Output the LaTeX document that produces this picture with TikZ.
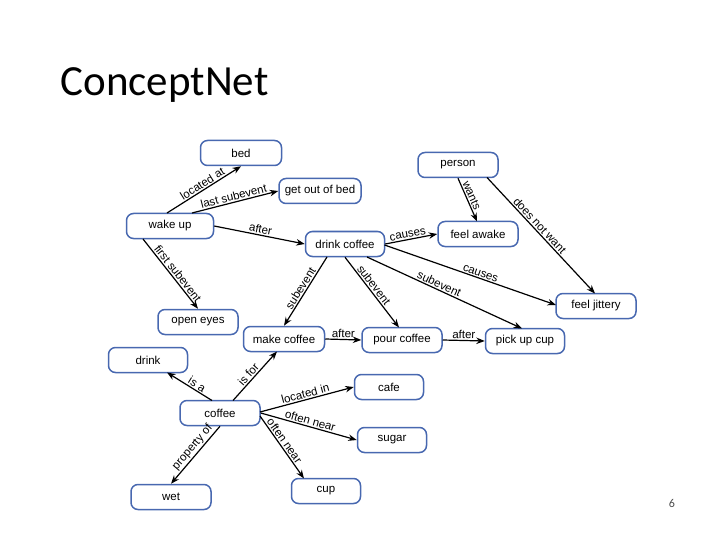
\documentclass[tikz,border=0pt]{standalone}
\usepackage{fontspec}
\setmainfont{Liberation Sans}
\newfontfamily\titlefont{Carlito}
\usetikzlibrary{arrows.meta,calc}
\definecolor{nodeblue}{RGB}{72,104,176}
\begin{document}
\begin{tikzpicture}[x=1pt,y=-1pt,
  cn/.style={draw=nodeblue,line width=1.5pt,rounded corners=7pt,fill=white,
    minimum width=80pt,minimum height=25pt,inner sep=1pt,
    font=\fontsize{11.5}{13}\selectfont},
  rel/.style={line width=1.2pt,black,-{Stealth[length=8.5pt,width=6.5pt]}},
  lab/.style={sloped,above,inner sep=1.2pt,font=\fontsize{11.5}{13}\selectfont}]
\useasboundingbox (0,0) rectangle (720,540);
\node[anchor=base west,font=\titlefont\fontsize{43}{50}\selectfont] (title) at (57,96) {ConceptNet};
\node[font=\titlefont\fontsize{12}{14}\selectfont,text=black!70] (pg) at (672,503) {6};
% nodes
\node[cn,minimum width=81pt] (bed) at (241,153) {bed};
\node[cn,minimum width=82pt] (gob) at (320,191) {get out of bed};
\node[cn,minimum width=87pt] (wake) at (170,226) {wake up};
\node[cn,minimum width=79pt] (dc) at (345,244) {drink coffee};
\node[cn] (person) at (458,165) {person};
\node[cn] (awake) at (478,234) {feel awake};
\node[cn] (jit) at (596,306) {feel jittery};
\node[cn] (eyes) at (198,322) {open eyes};
\node[cn,minimum width=81pt] (make) at (284,339) {make coffee};
\node[cn] (pour) at (402,340) {pour coffee};
\node[cn,minimum width=79pt] (pick) at (525,341) {pick up cup};
\node[cn,minimum width=79pt] (drink) at (148,360) {drink};
\node[cn] (coffee) at (220,413) {coffee};
\node[cn,minimum width=69pt] (cafe) at (389,387) {cafe};
\node[cn,minimum width=69pt] (sugar) at (392,440) {sugar};
\node[cn,minimum width=69pt] (cup) at (326,491) {cup};
\node[cn] (wet) at (171,497) {wet};
% edges
\draw[rel] ($(wake)+(-3,-13)$) -- node[lab,pos=0.52]{located at} (bed.south);
\draw[rel] ($(wake)+(22,-13)$) -- node[lab,pos=0.5]{last subevent} (gob.west);
\draw[rel] (wake.east) -- node[lab]{after} (dc.west);
\draw[rel] ($(wake)+(-27,13)$) -- node[lab,pos=0.55]{first subevent} (eyes.north);
\draw[rel] ($(dc)+(-18,13)$) -- node[lab]{subevent} (make.north);
\draw[rel] (dc.south) -- node[lab,pos=0.45]{subevent} ($(pour)+(-3,-12.5)$);
\draw[rel] ($(dc)+(22,13)$) -- node[lab,pos=0.45]{subevent} ($(pick)+(-3,-12.5)$);
\draw[rel] ($(dc)+(39.5,1)$) -- node[lab,pos=0.55]{causes} ($(jit)+(-40,-1)$);
\draw[rel] (dc.east) -- node[lab,pos=0.45]{causes} (awake.west);
\draw[rel] (person.south) -- node[lab,pos=0.45]{wants} ($(awake)+(-1,-12.5)$);
\draw[rel] ($(person)+(29,12.5)$) -- node[lab,pos=0.45]{does not want} ($(jit)+(-1,-12.5)$);
\draw[rel] (make.east) -- node[lab]{after} (pour.west);
\draw[rel] (pour.east) -- node[lab]{after} (pick.west);
\draw[rel] ($(coffee)+(-8,-12.5)$) -- node[lab,pos=0.4]{is a} ($(drink)+(19,12.5)$);
\draw[rel] ($(coffee)+(13,-12.5)$) -- node[lab,pos=0.45]{is for} ($(make)+(-7,12.5)$);
\draw[rel] ($(coffee)+(40,-1)$) -- node[lab]{located in} (cafe.west);
\draw[rel] (coffee.east) -- node[lab]{often near} (sugar.west);
\draw[rel] ($(coffee)+(40,3)$) -- node[lab,pos=0.45]{often near} ($(cup)+(-22,-12.5)$);
\draw[rel] (coffee.south) -- node[lab,pos=0.45]{property of} (wet.north);
\end{tikzpicture}
\end{document}
